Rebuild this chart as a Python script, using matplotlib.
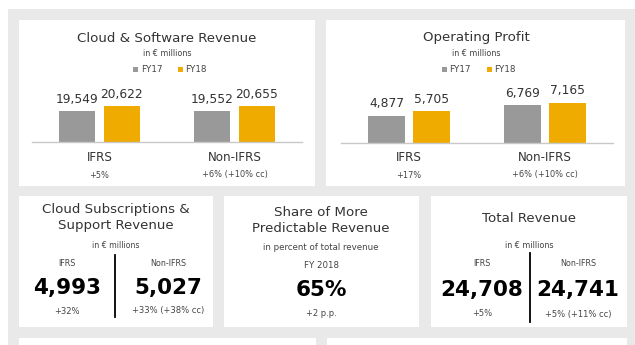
import numpy as np
import matplotlib
matplotlib.use('Agg')
import matplotlib.pyplot as plt
from matplotlib.patches import Rectangle
import matplotlib.transforms as mtransforms

plt.rcParams['font.family'] = ['DejaVu Sans']

# ---------------- data ----------------
groups = ['IFRS', 'Non-IFRS']
years = ['FY17', 'FY18']
cloud_fy17 = [19549, 19552]
cloud_fy18 = [20622, 20655]
cloud_growth = ['+5%', '+6% (+10% cc)']
op_fy17 = [4877, 6769]
op_fy18 = [5705, 7165]
op_growth = ['+17%', '+6% (+10% cc)']
subs_values = [4993, 5027]
subs_growth = ['+32%', '+33% (+38% cc)']
share_value = 65
share_growth = '+2 p.p.'
total_values = [24708, 24741]
total_growth = ['+5%', '+5% (+11% cc)']

GRAY = '#999999'
GOLD = '#f0ab00'
BG = '#e9e9e9'
TXT = '#333333'
SUB = '#444444'

W, H = 635, 345
fig = plt.figure(figsize=(W / 100, H / 100), dpi=100)
fig.patch.set_facecolor('white')


def X(px):
    return px / W


def Y(py):
    return 1 - py / H


def box(x0, y0, x1, y1, color):
    fig.patches.append(Rectangle((X(x0), Y(y1)), (x1 - x0) / W, (y1 - y0) / H,
                                 transform=fig.transFigure, facecolor=color,
                                 edgecolor='none', zorder=-10))


def txt(x, y, s, size, color=TXT, weight='normal'):
    fig.text(X(x), Y(y), s, fontsize=size, color=color, weight=weight,
             ha='center', va='center')


def vline(x, y0, y1):
    fig.add_artist(plt.Line2D([X(x), X(x)], [Y(y0), Y(y1)], transform=fig.transFigure,
                              color='black', lw=1.3))


# background and cards
box(8, 9, 635, 345, BG)
box(19, 20, 315, 186, 'white')
box(326, 20, 625, 186, 'white')
box(19, 196, 213, 327, 'white')
box(224, 196, 419, 327, 'white')
box(431, 196, 627, 327, 'white')
box(19, 338, 316, 346, 'white')
box(327, 338, 627, 346, 'white')


def bar_chart(left, right, base, top, fy17, fy18, ylim, growth, title, cx):
    ax = fig.add_axes([X(left), Y(base), (right - left) / W, (base - top) / H])
    ax.patch.set_alpha(0)
    x = np.arange(len(groups))
    w, off = 0.27, 0.166
    b1 = ax.bar(x - off, fy17, w, color=GRAY, label=years[0])
    b2 = ax.bar(x + off, fy18, w, color=GOLD, label=years[1])
    ax.set_xlim(-0.5, 1.5)
    ax.set_ylim(*ylim)
    for bars, vals in ((b1, fy17), (b2, fy18)):
        for r, v in zip(bars, vals):
            ax.annotate(f'{v:,}', (r.get_x() + r.get_width() / 2, v), xytext=(0, 6),
                        textcoords='offset points', ha='center', va='baseline',
                        fontsize=8.8, color=TXT)
    for s in ['top', 'left', 'right']:
        ax.spines[s].set_visible(False)
    ax.spines['bottom'].set_color('#c8c8c8')
    ax.spines['bottom'].set_linewidth(1.0)
    ax.set_xticks([])
    ax.set_yticks([])
    tr = mtransforms.blended_transform_factory(ax.transData, fig.transFigure)
    for i, g in enumerate(groups):
        ax.text(i, Y(158), g, transform=tr, ha='center', va='center', fontsize=8.6, color=TXT)
        ax.text(i, Y(175), growth[i], transform=tr, ha='center', va='center', fontsize=5.9, color=SUB)
    txt(cx, 38, title, 9.6)
    txt(cx, 54, 'in € millions', 5.8, SUB)
    ax.legend(loc='center', bbox_to_anchor=(X(cx + 3), Y(70)), bbox_transform=fig.transFigure,
              ncol=2, frameon=False, fontsize=6.3, handlelength=0.6, handleheight=0.6,
              handletextpad=0.25, columnspacing=1.8, labelcolor=SUB, borderpad=0)


bar_chart(32, 302, 142, 60, cloud_fy17, cloud_fy18, (13000, 30600), cloud_growth,
          'Cloud & Software Revenue', 167)
bar_chart(341, 613, 143, 61, op_fy17, op_fy18, (0, 14600), op_growth,
          'Operating Profit', 476)

# Card 1: Cloud Subscriptions & Support Revenue
txt(116, 209, 'Cloud Subscriptions &', 9.6)
txt(116, 226, 'Support Revenue', 9.6)
txt(116, 246, 'in € millions', 5.6, SUB)
for cxx, g, v, gr in zip([67, 168], groups, subs_values, subs_growth):
    txt(cxx, 263, g, 5.8, SUB)
    txt(cxx, 288, f'{v:,}', 15.5, 'black', 'bold')
    txt(cxx, 311, gr, 6.0, SUB)
vline(115, 255, 317)

# Card 2: Share of More Predictable Revenue
txt(321, 213, 'Share of More', 9.6)
txt(321, 229, 'Predictable Revenue', 9.6)
txt(321, 247, 'in percent of total revenue', 6.2, SUB)
txt(321, 265, 'FY 2018', 6.2, SUB)
txt(321, 290, f'{share_value}%', 15.5, 'black', 'bold')
txt(321, 314, share_growth, 6.0, SUB)

# Card 3: Total Revenue
txt(529, 219, 'Total Revenue', 9.6)
txt(529, 245, 'in € millions', 5.8, SUB)
for cxx, g, v, gr in zip([482, 578], groups, total_values, total_growth):
    txt(cxx, 263, g, 5.8, SUB)
    txt(cxx, 290, f'{v:,}', 15.5, 'black', 'bold')
    txt(cxx, 314, gr, 6.0, SUB)
vline(530, 253, 322)

fig.savefig('out.png', dpi=100)
